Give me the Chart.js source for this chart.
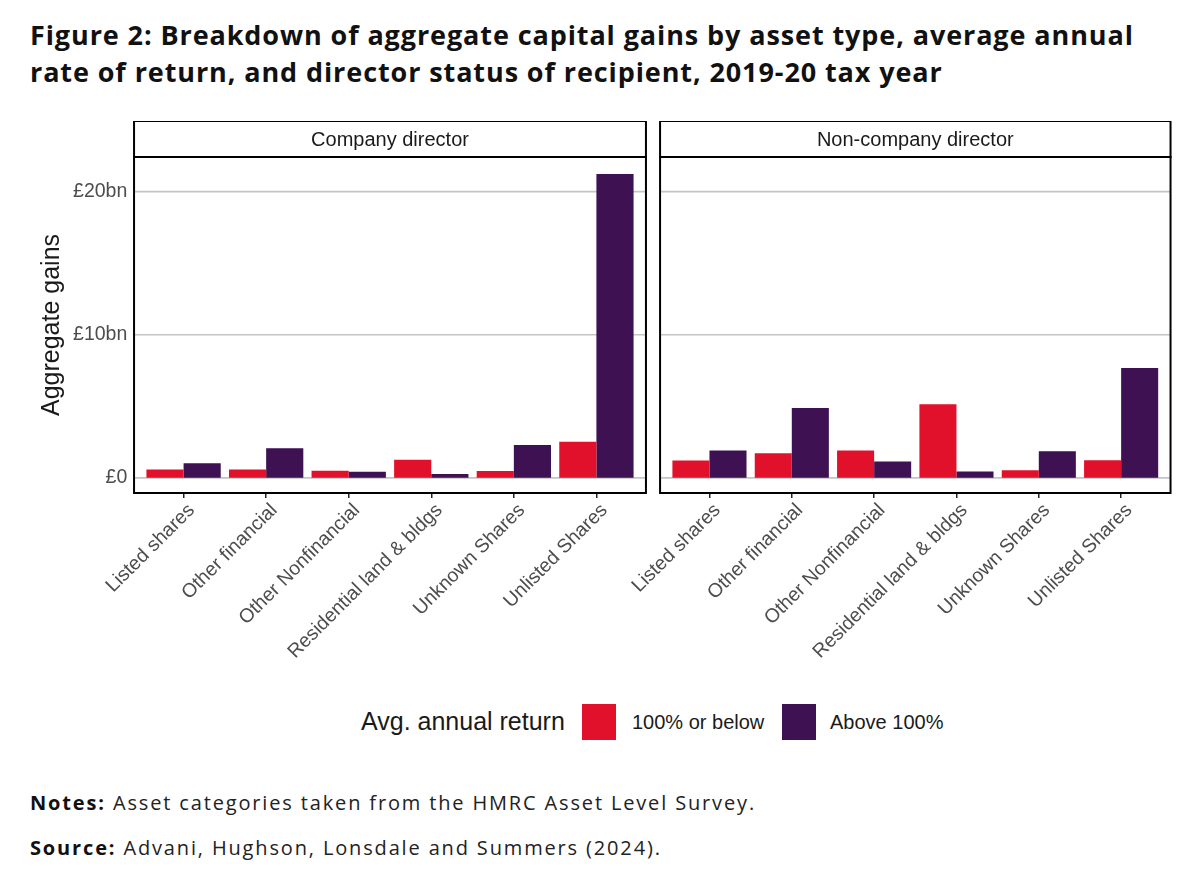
<!DOCTYPE html>
<html>
<head>
<meta charset="utf-8">
<script src="https://cdn.jsdelivr.net/npm/chart.js@4.4.1/dist/chart.umd.min.js"></script>
<style>
  body { margin: 0; background: #fff; width: 1200px; height: 869px; position: relative; overflow: hidden; }
  #title { position: absolute; left: 30px; top: 16px; font: bold 27px "Open Sans", sans-serif; line-height: 37px; color: #111; letter-spacing: 0.9px; white-space: nowrap; }
  canvas { position: absolute; }
  .lg { position: absolute; font-family: "Liberation Sans", Arial, sans-serif; color: #1a1a1a; line-height: 1; }
  .box { position: absolute; width: 34px; height: 36px; top: 704px; }
  .note { position: absolute; left: 30px; font: 20px "Open Sans", sans-serif; color: #222; letter-spacing: 1.85px; white-space: nowrap; }
  .note b { font-weight: bold; color: #111; }
</style>
</head>
<body>
<div id="title">Figure 2: Breakdown of aggregate capital gains by asset type, average annual<br>rate of return, and director status of recipient, 2019-20 tax year</div>

<canvas id="left" width="620" height="569" style="left:30px; top:121px;"></canvas>
<canvas id="right" width="620" height="569" style="left:556px; top:121px;"></canvas>

<div class="lg" style="left:361px; top:709px; font-size:25px;">Avg. annual return</div>
<div class="box" style="left:582px; background:#e1102b;"></div>
<div class="lg" style="left:632px; top:712px; font-size:20px;">100% or below</div>
<div class="box" style="left:782px; background:#3d1152;"></div>
<div class="lg" style="left:830px; top:712px; font-size:20px;">Above 100%</div>

<div class="note" style="top:789px;"><b>Notes:</b> Asset categories taken from the HMRC Asset Level Survey.</div>
<div class="note" style="top:834px;"><b>Source:</b> Advani, Hughson, Lonsdale and Summers (2024).</div>

<script>
// asset types on the x axis
var categories = ['Listed shares', 'Other financial', 'Other Nonfinancial', 'Residential land & bldgs', 'Unknown Shares', 'Unlisted Shares'];

// aggregate gains, £bn
var directorBelow = [0.58, 0.58, 0.49, 1.26, 0.47, 2.53];
var directorAbove = [1.02, 2.07, 0.42, 0.26, 2.30, 21.23];
var nonDirectorBelow = [1.21, 1.72, 1.91, 5.14, 0.53, 1.23];
var nonDirectorAbove = [1.91, 4.88, 1.14, 0.44, 1.86, 7.67];

var yTicks = [0, 10, 20];
var yTickLabels = ['£0', '£10bn', '£20bn'];

var seriesNames = ['100% or below', 'Above 100%'];
var RED = '#e1102b';
var PURPLE = '#3d1152';
var FONT = '"Liberation Sans", Arial, sans-serif';

// ggplot style panel: frame reaches 0.1 category past the outer bars, gridlines too
var facetFrame = {
    id: 'facetFrame',
    beforeDatasetsDraw: function(chart) {
        var ctx = chart.ctx, a = chart.chartArea, y = chart.scales.y;
        var ext = (a.right - a.left) / 60;
        ctx.save();
        ctx.strokeStyle = '#c4c4c4';
        ctx.lineWidth = 1.6;
        yTicks.forEach(function(v) {
            var py = y.getPixelForValue(v);
            ctx.beginPath();
            ctx.moveTo(a.left - ext, py);
            ctx.lineTo(a.right + ext, py);
            ctx.stroke();
        });
        ctx.restore();
    },
    afterDraw: function(chart, args, opts) {
        var ctx = chart.ctx, a = chart.chartArea;
        var ext = (a.right - a.left) / 60;
        var l = a.left - ext, w = a.right - a.left + 2 * ext;
        ctx.save();
        ctx.strokeStyle = '#000';
        ctx.lineWidth = 2;
        ctx.strokeRect(l, a.top, w, a.bottom - a.top);
        ctx.strokeRect(l, a.top - 36, w, 36);
        ctx.fillStyle = '#1a1a1a';
        ctx.font = '20px ' + FONT;
        ctx.textAlign = 'center';
        ctx.textBaseline = 'middle';
        ctx.fillText(opts.label, l + w / 2, a.top - 17);
        ctx.restore();
    }
};

function makeChart(id, below, above, label, textColor, rightPad) {
    var ctx = document.getElementById(id).getContext('2d');
    return new Chart(ctx, {
        type: 'bar',
        data: {
            labels: categories,
            datasets: [
                { label: seriesNames[0], data: below, backgroundColor: RED },
                { label: seriesNames[1], data: above, backgroundColor: PURPLE }
            ]
        },
        options: {
            responsive: false,
            animation: false,
            categoryPercentage: 0.9,
            barPercentage: 1.0,
            layout: { padding: { top: 36, right: rightPad, left: 0, bottom: 0 } },
            plugins: {
                legend: { display: false },
                tooltip: { enabled: false },
                facetFrame: { label: label }
            },
            scales: {
                x: {
                    border: { display: false },
                    grid: { offset: false, drawOnChartArea: false, drawTicks: true, tickLength: 5, color: '#222', lineWidth: 1.5 },
                    ticks: {
                        autoSkip: false, minRotation: 45, maxRotation: 45,
                        color: '#4d4d4d', font: { family: FONT, size: 19.5 },
                        padding: 1, labelOffset: 8
                    },
                    afterFit: function(s) { s.height = 197; }
                },
                y: {
                    min: -1.06,
                    max: 22.42,
                    border: { display: false },
                    grid: { display: false, drawTicks: false },
                    afterBuildTicks: function(s) {
                        s.ticks = yTicks.map(function(v) { return { value: v }; });
                    },
                    ticks: {
                        color: textColor === null ? 'rgba(0,0,0,0)' : '#4d4d4d',
                        font: { family: FONT, size: 19.5 },
                        padding: 15,
                        callback: function(v) { return yTickLabels[yTicks.indexOf(v)]; }
                    },
                    title: {
                        display: true,
                        text: 'Aggregate gains',
                        color: textColor === null ? 'rgba(0,0,0,0)' : textColor,
                        font: { family: FONT, size: 25 },
                        padding: { top: 7, bottom: 0 }
                    },
                    afterFit: function(s) { s.width = 112.3; }
                }
            }
        },
        plugins: [facetFrame]
    });
}

makeChart('left', directorBelow, directorAbove, 'Company director', '#1a1a1a', 12.3);
makeChart('right', nonDirectorBelow, nonDirectorAbove, 'Non-company director', null, 13.7);
</script>
</body>
</html>
